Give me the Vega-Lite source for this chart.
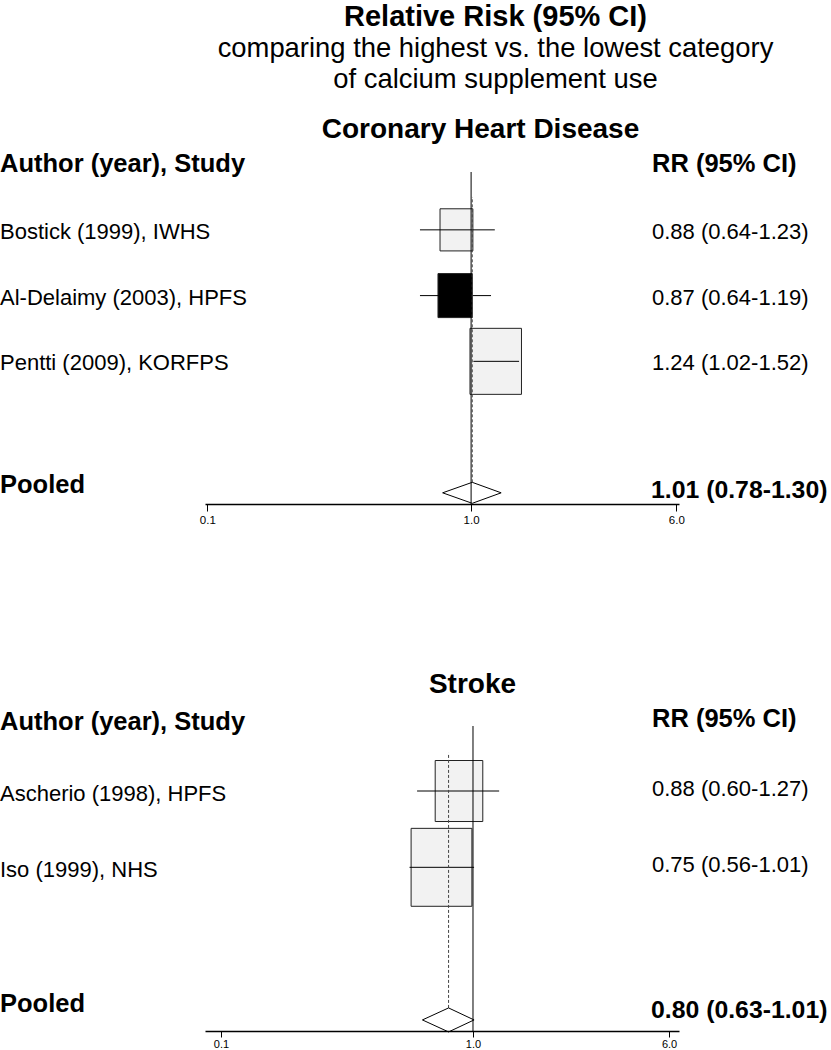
{
  "$schema": "https://vega.github.io/schema/vega-lite/v6.json",
  "padding": {"top": 3, "left": 0, "right": 0, "bottom": 0},
  "background": "white",
  "bounds": "flush",
  "spacing": 222,
  "resolve": {"scale": {"size": "independent", "fill": "independent"}},
  "config": {"view": {"stroke": null}, "font": "Liberation Sans"},
  "title": {
    "text": "Relative Risk (95% CI)",
    "subtitle": ["comparing the highest vs. the lowest category", "of calcium supplement use"],
    "font": "Liberation Sans", "subtitleFont": "Liberation Sans",
    "fontSize": 29, "fontWeight": "bold", "color": "black",
    "subtitleFontSize": 27.4, "subtitleLineHeight": 30.5, "subtitlePadding": 3, "subtitleColor": "black",
    "anchor": "middle", "dx": 80, "offset": 23
  },
  "datasets": {
    "chd": [
      {"type": "header", "study": "Author (year), Study", "ci": "RR (95% CI)", "row": 0},
      {"type": "study", "study": "Bostick (1999), IWHS", "rr": 0.88, "lo": 0.64, "hi": 1.23, "ci": "0.88 (0.64-1.23)", "weight": 22, "row": 1},
      {"type": "study", "study": "Al-Delaimy (2003), HPFS", "rr": 0.87, "lo": 0.64, "hi": 1.19, "ci": "0.87 (0.64-1.19)", "weight": 24, "row": 2},
      {"type": "study", "study": "Pentti (2009), KORFPS", "rr": 1.24, "lo": 1.02, "hi": 1.52, "ci": "1.24 (1.02-1.52)", "weight": 54, "row": 3},
      {"type": "pooled", "study": "Pooled", "rr": 1.01, "lo": 0.78, "hi": 1.30, "ci": "1.01 (0.78-1.30)", "row": 5}
    ],
    "stk": [
      {"type": "header", "study": "Author (year), Study", "ci": "RR (95% CI)", "row": 0},
      {"type": "study", "study": "Ascherio (1998), HPFS", "rr": 0.88, "lo": 0.60, "hi": 1.27, "ci": "0.88 (0.60-1.27)", "weight": 38, "row": 1},
      {"type": "study", "study": "Iso (1999), NHS", "rr": 0.75, "lo": 0.56, "hi": 1.01, "ci": "0.75 (0.56-1.01)", "weight": 62, "row": 2},
      {"type": "pooled", "study": "Pooled", "rr": 0.80, "lo": 0.63, "hi": 1.01, "ci": "0.80 (0.63-1.01)", "row": 4}
    ]
  },
  "vconcat": [
    {
      "width": 831, "height": 332,
      "title": {"text": "Coronary Heart Disease", "font": "Liberation Sans", "fontSize": 28, "fontWeight": "bold", "color": "black", "frame": "group", "anchor": "middle", "dx": 65, "offset": 8},
      "data": {"name": "chd"},
      "layer": [
        {
          "transform": [{"filter": "datum.type == 'study'"}],
          "mark": {"type": "point", "shape": "M-0.78,-1L0.78,-1L0.78,1L-0.78,1Z", "filled": true, "stroke": "#222222", "strokeWidth": 1, "opacity": 1},
          "encoding": {
            "x": {"field": "rr", "type": "quantitative",
              "scale": {"type": "log", "domain": [0.098, 6.14], "range": [205, 679], "nice": false},
              "axis": {"values": [0.1, 1, 6], "format": ".1f", "title": null, "grid": false, "domainColor": "black", "domainWidth": 1.5, "tickColor": "black", "tickSize": 7, "tickWidth": 1, "labelFontSize": 11.5, "labelColor": "black", "labelPadding": 3, "labelFont": "Liberation Sans", "labelFlush": false, "labelOverlap": false}},
            "y": {"field": "row", "type": "quantitative", "scale": {"domain": [0.12, 5.17], "reverse": true, "nice": false, "zero": false}, "axis": null},
            "size": {"field": "weight", "type": "quantitative", "scale": {"domain": [0, 100], "range": [0, 8070]}, "legend": null},
            "fill": {"condition": {"test": "datum.study == 'Al-Delaimy (2003), HPFS'", "value": "black"}, "value": "#f2f2f2"}
          }
        },
        {
          "transform": [{"filter": "datum.type == 'study'"}],
          "mark": {"type": "rule", "color": "black", "strokeWidth": 1},
          "encoding": {"x": {"field": "lo", "type": "quantitative"}, "x2": {"field": "hi"}, "y": {"field": "row", "type": "quantitative"}}
        },
        {
          "data": {"values": [{"ref": 1}]},
          "mark": {"type": "rule", "color": "black", "strokeWidth": 1},
          "encoding": {"x": {"field": "ref", "type": "quantitative"}}
        },
        {
          "transform": [{"filter": "datum.type == 'pooled'"}],
          "mark": {"type": "rule", "color": "#444444", "strokeWidth": 1, "strokeDash": [3, 2], "yOffset": -10.5},
          "encoding": {"x": {"field": "rr", "type": "quantitative"}, "y": {"field": "row", "type": "quantitative"}, "y2": {"datum": 0.5}}
        },
        {
          "transform": [{"filter": "datum.type == 'pooled'"}],
          "mark": {"type": "rule", "color": "black", "strokeWidth": 1, "y2Offset": -10.5},
          "encoding": {"x": {"field": "lo", "type": "quantitative"}, "x2": {"field": "rr"}, "y": {"field": "row", "type": "quantitative"}, "y2": {"field": "row"}}
        },
        {
          "transform": [{"filter": "datum.type == 'pooled'"}],
          "mark": {"type": "rule", "color": "black", "strokeWidth": 1, "y2Offset": 10.5},
          "encoding": {"x": {"field": "lo", "type": "quantitative"}, "x2": {"field": "rr"}, "y": {"field": "row", "type": "quantitative"}, "y2": {"field": "row"}}
        },
        {
          "transform": [{"filter": "datum.type == 'pooled'"}],
          "mark": {"type": "rule", "color": "black", "strokeWidth": 1, "yOffset": -10.5},
          "encoding": {"x": {"field": "rr", "type": "quantitative"}, "x2": {"field": "hi"}, "y": {"field": "row", "type": "quantitative"}, "y2": {"field": "row"}}
        },
        {
          "transform": [{"filter": "datum.type == 'pooled'"}],
          "mark": {"type": "rule", "color": "black", "strokeWidth": 1, "yOffset": 10.5},
          "encoding": {"x": {"field": "rr", "type": "quantitative"}, "x2": {"field": "hi"}, "y": {"field": "row", "type": "quantitative"}, "y2": {"field": "row"}}
        },
        {
          "transform": [{"filter": "datum.type == 'study'"}],
          "mark": {"type": "text", "align": "left", "baseline": "middle", "fontSize": 22, "font": "Liberation Sans", "color": "black", "dy": 2},
          "encoding": {"x": {"value": 0}, "y": {"field": "row", "type": "quantitative"}, "text": {"field": "study"}}
        },
        {
          "transform": [{"filter": "datum.type == 'study'"}],
          "mark": {"type": "text", "align": "left", "baseline": "middle", "fontSize": 22, "font": "Liberation Sans", "color": "black", "dy": 2},
          "encoding": {"x": {"value": 652}, "y": {"field": "row", "type": "quantitative"}, "text": {"field": "ci"}}
        },
        {
          "transform": [{"filter": "datum.type == 'header'"}],
          "mark": {"type": "text", "align": "left", "baseline": "middle", "fontSize": 25.5, "fontWeight": "bold", "font": "Liberation Sans", "color": "black"},
          "encoding": {"x": {"value": 0}, "y": {"field": "row", "type": "quantitative"}, "text": {"field": "study"}}
        },
        {
          "transform": [{"filter": "datum.type == 'header'"}],
          "mark": {"type": "text", "align": "left", "baseline": "middle", "fontSize": 25.5, "fontWeight": "bold", "font": "Liberation Sans", "color": "black"},
          "encoding": {"x": {"value": 652}, "y": {"field": "row", "type": "quantitative"}, "text": {"field": "ci"}}
        },
        {
          "transform": [{"filter": "datum.type == 'pooled'"}],
          "mark": {"type": "text", "align": "left", "baseline": "middle", "fontSize": 25.5, "fontWeight": "bold", "font": "Liberation Sans", "color": "black", "dy": -8},
          "encoding": {"x": {"value": 0}, "y": {"field": "row", "type": "quantitative"}, "text": {"field": "study"}}
        },
        {
          "transform": [{"filter": "datum.type == 'pooled'"}],
          "mark": {"type": "text", "align": "left", "baseline": "middle", "fontSize": 24.8, "fontWeight": "bold", "font": "Liberation Sans", "color": "black", "dy": -2},
          "encoding": {"x": {"value": 651}, "y": {"field": "row", "type": "quantitative"}, "text": {"field": "ci"}}
        }
      ]
    },
    {
      "width": 831, "height": 305,
      "title": {"text": "Stroke", "font": "Liberation Sans", "fontSize": 28, "fontWeight": "bold", "color": "black", "frame": "group", "anchor": "middle", "dx": 57, "offset": 8},
      "data": {"name": "stk"},
      "layer": [
        {
          "transform": [{"filter": "datum.type == 'study'"}],
          "mark": {"type": "point", "shape": "M-0.78,-1L0.78,-1L0.78,1L-0.78,1Z", "filled": true, "stroke": "#222222", "strokeWidth": 1, "opacity": 1},
          "encoding": {
            "x": {"field": "rr", "type": "quantitative",
              "scale": {"type": "log", "domain": [0.0864, 6.57], "range": [205, 679], "nice": false},
              "axis": {"values": [0.1, 1, 6], "format": ".1f", "title": null, "grid": false, "domainColor": "black", "domainWidth": 1.5, "tickColor": "black", "tickSize": 6, "tickWidth": 1, "labelFontSize": 11, "labelColor": "black", "labelPadding": 1, "labelFont": "Liberation Sans", "labelFlush": false, "labelOverlap": false}},
            "y": {"field": "row", "type": "quantitative", "scale": {"domain": [0.148, 4.145], "reverse": true, "nice": false, "zero": false}, "axis": null},
            "size": {"field": "weight", "type": "quantitative", "scale": {"domain": [0, 100], "range": [0, 9800]}, "legend": null},
            "fill": {"value": "#f2f2f2"}
          }
        },
        {
          "transform": [{"filter": "datum.type == 'study'"}],
          "mark": {"type": "rule", "color": "black", "strokeWidth": 1},
          "encoding": {"x": {"field": "lo", "type": "quantitative"}, "x2": {"field": "hi"}, "y": {"field": "row", "type": "quantitative"}}
        },
        {
          "data": {"values": [{"ref": 1}]},
          "mark": {"type": "rule", "color": "black", "strokeWidth": 1},
          "encoding": {"x": {"field": "ref", "type": "quantitative"}}
        },
        {
          "transform": [{"filter": "datum.type == 'pooled'"}],
          "mark": {"type": "rule", "color": "#444444", "strokeWidth": 1, "strokeDash": [3, 2], "yOffset": -12},
          "encoding": {"x": {"field": "rr", "type": "quantitative"}, "y": {"field": "row", "type": "quantitative"}, "y2": {"datum": 0.5}}
        },
        {
          "transform": [{"filter": "datum.type == 'pooled'"}],
          "mark": {"type": "rule", "color": "black", "strokeWidth": 1, "y2Offset": -12},
          "encoding": {"x": {"field": "lo", "type": "quantitative"}, "x2": {"field": "rr"}, "y": {"field": "row", "type": "quantitative"}, "y2": {"field": "row"}}
        },
        {
          "transform": [{"filter": "datum.type == 'pooled'"}],
          "mark": {"type": "rule", "color": "black", "strokeWidth": 1, "y2Offset": 12},
          "encoding": {"x": {"field": "lo", "type": "quantitative"}, "x2": {"field": "rr"}, "y": {"field": "row", "type": "quantitative"}, "y2": {"field": "row"}}
        },
        {
          "transform": [{"filter": "datum.type == 'pooled'"}],
          "mark": {"type": "rule", "color": "black", "strokeWidth": 1, "yOffset": -12},
          "encoding": {"x": {"field": "rr", "type": "quantitative"}, "x2": {"field": "hi"}, "y": {"field": "row", "type": "quantitative"}, "y2": {"field": "row"}}
        },
        {
          "transform": [{"filter": "datum.type == 'pooled'"}],
          "mark": {"type": "rule", "color": "black", "strokeWidth": 1, "yOffset": 12},
          "encoding": {"x": {"field": "rr", "type": "quantitative"}, "x2": {"field": "hi"}, "y": {"field": "row", "type": "quantitative"}, "y2": {"field": "row"}}
        },
        {
          "transform": [{"filter": "datum.type == 'study'"}],
          "mark": {"type": "text", "align": "left", "baseline": "middle", "fontSize": 22, "font": "Liberation Sans", "color": "black", "dy": 3},
          "encoding": {"x": {"value": 0}, "y": {"field": "row", "type": "quantitative"}, "text": {"field": "study"}}
        },
        {
          "transform": [{"filter": "datum.type == 'study'"}],
          "mark": {"type": "text", "align": "left", "baseline": "middle", "fontSize": 22, "font": "Liberation Sans", "color": "black", "dy": -2},
          "encoding": {"x": {"value": 652}, "y": {"field": "row", "type": "quantitative"}, "text": {"field": "ci"}}
        },
        {
          "transform": [{"filter": "datum.type == 'header'"}],
          "mark": {"type": "text", "align": "left", "baseline": "middle", "fontSize": 25.5, "fontWeight": "bold", "font": "Liberation Sans", "color": "black", "dy": 7},
          "encoding": {"x": {"value": 0}, "y": {"field": "row", "type": "quantitative"}, "text": {"field": "study"}}
        },
        {
          "transform": [{"filter": "datum.type == 'header'"}],
          "mark": {"type": "text", "align": "left", "baseline": "middle", "fontSize": 25.5, "fontWeight": "bold", "font": "Liberation Sans", "color": "black", "dy": 4},
          "encoding": {"x": {"value": 652}, "y": {"field": "row", "type": "quantitative"}, "text": {"field": "ci"}}
        },
        {
          "transform": [{"filter": "datum.type == 'pooled'"}],
          "mark": {"type": "text", "align": "left", "baseline": "middle", "fontSize": 25.5, "fontWeight": "bold", "font": "Liberation Sans", "color": "black", "dy": -16},
          "encoding": {"x": {"value": 0}, "y": {"field": "row", "type": "quantitative"}, "text": {"field": "study"}}
        },
        {
          "transform": [{"filter": "datum.type == 'pooled'"}],
          "mark": {"type": "text", "align": "left", "baseline": "middle", "fontSize": 24.8, "fontWeight": "bold", "font": "Liberation Sans", "color": "black", "dy": -9},
          "encoding": {"x": {"value": 651}, "y": {"field": "row", "type": "quantitative"}, "text": {"field": "ci"}}
        }
      ]
    }
  ]
}
